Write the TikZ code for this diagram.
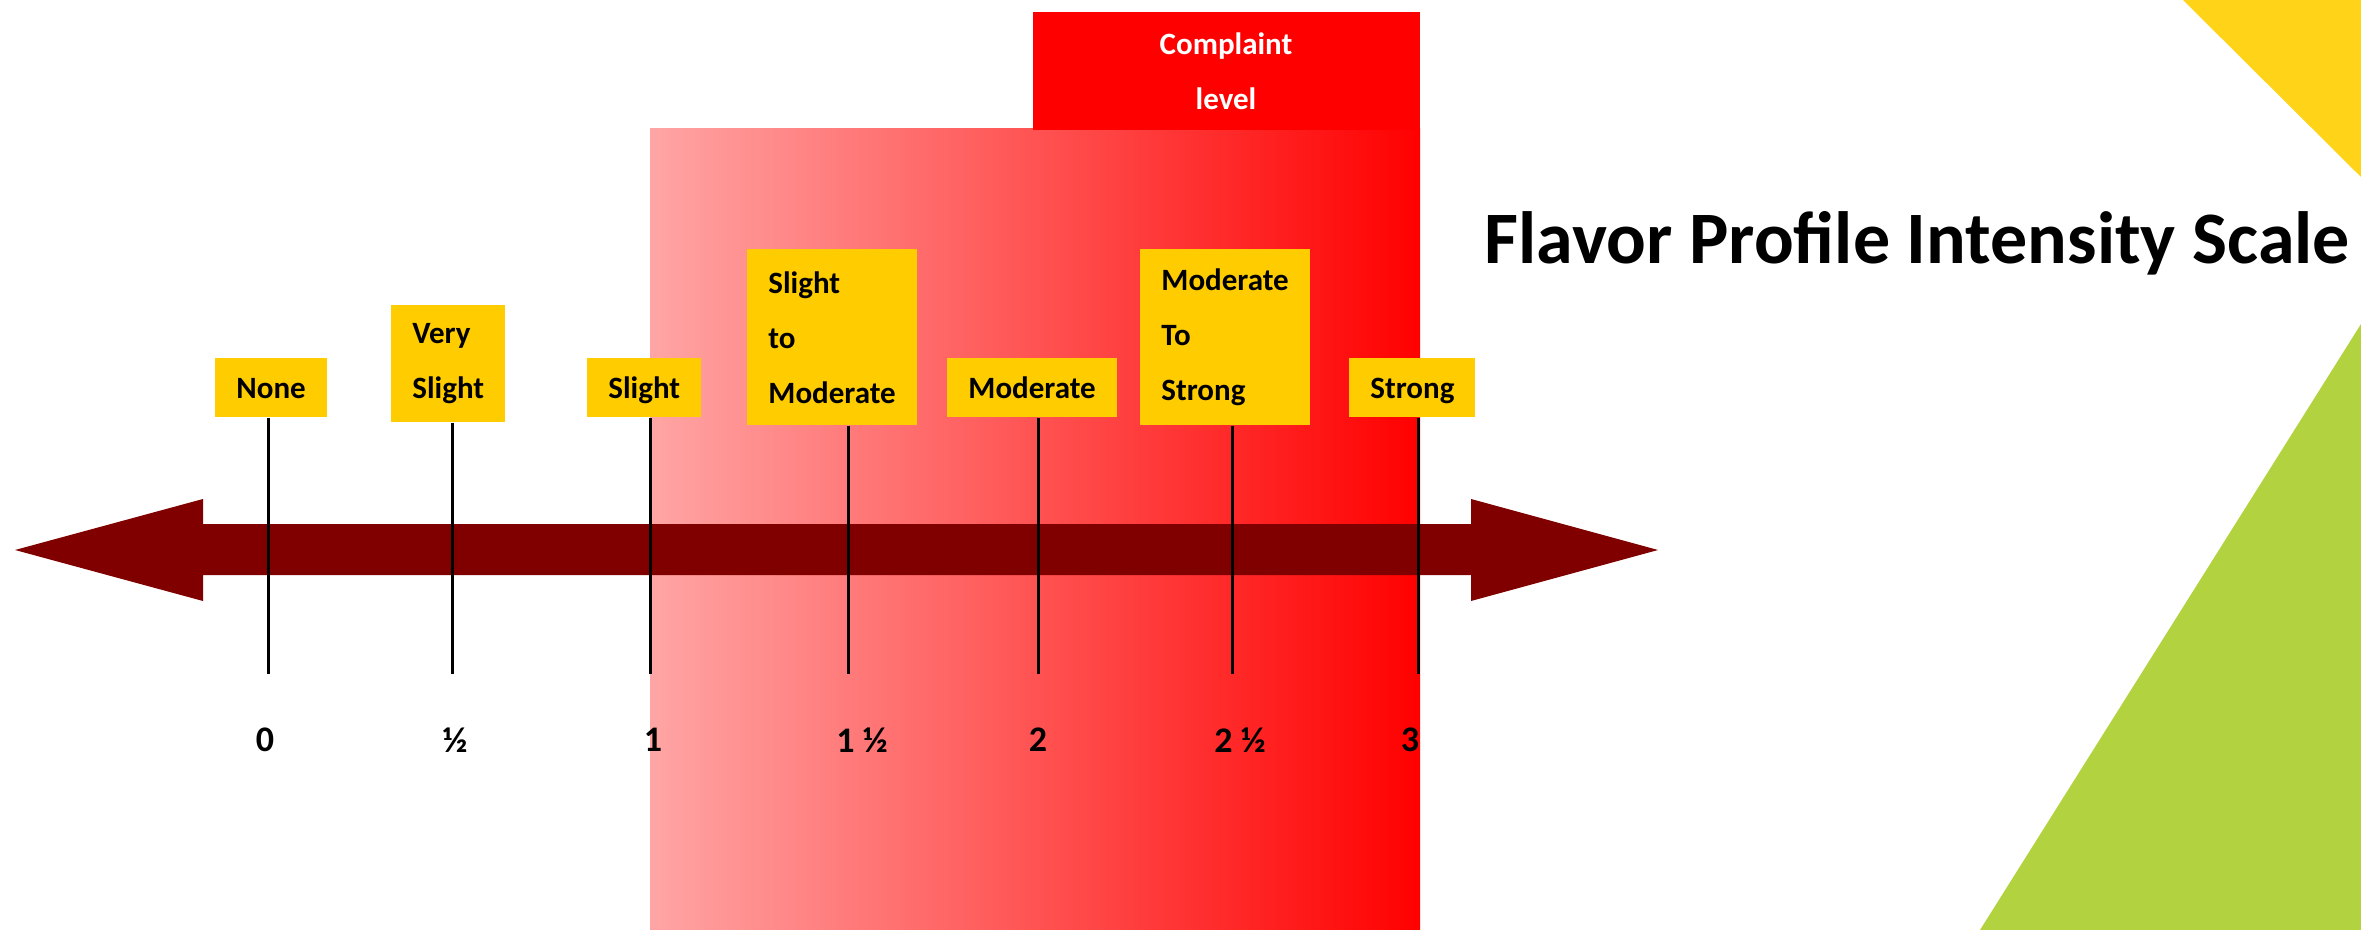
\documentclass[tikz,border=0pt]{standalone}
\usepackage{fontspec}
\setmainfont{Carlito}
\definecolor{arrowred}{HTML}{800000}
\definecolor{labyellow}{HTML}{FFCC00}
\definecolor{cornyellow}{HTML}{FFD318}
\definecolor{corngreen}{HTML}{B2D33F}
\definecolor{pinkstart}{RGB}{255,165,165}
\definecolor{fullred}{RGB}{255,0,0}
\newcommand\labfont{\fontsize{15.5pt}{27.5pt}\selectfont\bfseries}
\newcommand\numfont{\fontsize{18pt}{20pt}\selectfont\bfseries}
\newcommand\titlefont{\fontsize{37pt}{40pt}\selectfont\bfseries}
\begin{document}
\begin{tikzpicture}[x=0.5pt,y=-0.5pt,
  lab/.style={fill=labyellow, font=\labfont, align=left, inner xsep=10.5pt, inner ysep=0pt, anchor=north west, text=black},
  oneline/.style={minimum height=29.5pt, text height=11pt, text depth=0pt},
  tickline/.style={line width=1.5pt, draw=black},
  num/.style={font=\numfont, inner sep=0pt, text=black}]
\useasboundingbox (0,0) rectangle (2361,930);
\fill[white] (0,0) rectangle (2361,930);
% corner triangles
\fill[cornyellow] (2183,0) -- (2361,0) -- (2361,177) -- cycle;
\fill[corngreen] (1980,930) -- (2361,324) -- (2361,930) -- cycle;
% complaint zone
\shade[left color=pinkstart, right color=fullred] (650,129) rectangle (1420,930);
\node[fill=fullred, minimum width=193.5pt, minimum height=59pt, inner sep=0pt,
      text=white, align=center, font=\labfont] (complaint) at (1226,71) {Complaint\\level};
% arrow
\fill[arrowred] (15,550) -- (203,499) -- (203,524) -- (1471,524) -- (1471,499) -- (1658,550)
  -- (1471,601) -- (1471,575) -- (203,575) -- (203,601) -- cycle;
% labels
\node[lab, oneline] (none) at (215,358) {None};
\node[lab, minimum height=58.5pt] (vslight) at (391,305) {Very\\Slight};
\node[lab, oneline] (slight) at (587,358) {Slight};
\node[lab, minimum height=88pt] (slmod) at (747,249) {Slight\\to\\Moderate};
\node[lab, oneline] (mod) at (947,358) {Moderate};
\node[lab, minimum height=88pt] (modstr) at (1140,249) {Moderate\\To\\Strong};
\node[lab, oneline] (strong) at (1349,358) {Strong};
% tick ends
\coordinate (b0) at (268,674);
\coordinate (b1) at (452,674);
\coordinate (b2) at (650,674);
\coordinate (b3) at (848,674);
\coordinate (b4) at (1038,674);
\coordinate (b5) at (1232,674);
\coordinate (b6) at (1418,674);
\draw[tickline] (b0 |- none.south) -- (b0);
\draw[tickline] (b1 |- vslight.south) -- (b1);
\draw[tickline] (b2 |- slight.south) -- (b2);
\draw[tickline] (b3 |- slmod.south) -- (b3);
\draw[tickline] (b4 |- mod.south) -- (b4);
\draw[tickline] (b5 |- modstr.south) -- (b5);
\draw[tickline] (b6 |- strong.south) -- (b6);
% numbers
\node[num] (n0) at (265,740) {0};
\node[num] (n1) at (455,740) {½};
\node[num] (n2) at (653,740) {1};
\node[num] (n3) at (862,740) {1 ½};
\node[num] (n4) at (1038,740) {2};
\node[num] (n5) at (1240,740) {2 ½};
\node[num] (n6) at (1410,740) {3};
% title
\node[font=\titlefont, anchor=base west, inner sep=0pt, text=black] (title) at (1484,264) {Flavor Profile Intensity Scale};
\end{tikzpicture}
\end{document}
